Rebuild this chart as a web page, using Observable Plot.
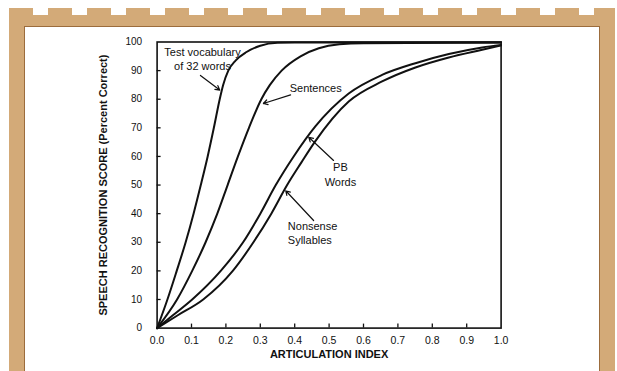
<!DOCTYPE html>
<html>
<head>
<meta charset="utf-8">
<script src="https://cdn.jsdelivr.net/npm/d3@7"></script>
<script src="https://cdn.jsdelivr.net/npm/@observablehq/plot@0.6"></script>
<style>
  html, body { margin: 0; padding: 0; background: #ffffff; }
  #wrap { position: relative; width: 617px; height: 371px; overflow: hidden; background: #ffffff; }
  #dash { position: absolute; left: 9px; top: 8px; width: 606px; height: 7px;
          background: repeating-linear-gradient(to right, #d3aa78 0px, #d3aa78 24px, transparent 24px, transparent 39px); }
  #tan { position: absolute; left: 9px; top: 15px; width: 606px; height: 356px; background: #d3aa78; }
  #inner { position: absolute; left: 24px; top: 26px; width: 576px; height: 345px; background: #ffffff;
           border-left: 1px solid #9c6c3c; border-top: 1px solid #9c6c3c; border-right: 1px solid #9c6c3c; box-sizing: border-box; }
  #chart { position: absolute; left: 25px; top: 27px; }
</style>
</head>
<body>
<div id="wrap">
  <div id="dash"></div>
  <div id="tan"></div>
  <div id="inner"></div>
  <div id="chart"></div>
</div>
<script>
// ---- data ----
const testX = [0, 0.030, 0.057, 0.083, 0.106, 0.127, 0.147, 0.165, 0.182, 0.192, 0.207, 0.228, 0.26, 0.30, 0.35, 0.4, 1.0];
const testY = [0, 10, 20, 30, 40, 50, 60, 70, 80, 85, 90, 93.5, 96.5, 98.7, 99.7, 99.8, 99.8];

const sentX = [0, 0.058, 0.102, 0.141, 0.175, 0.205, 0.235, 0.267, 0.303, 0.328, 0.362, 0.417, 0.47, 0.53, 0.6, 1.0];
const sentY = [0, 10, 20, 30, 40, 50, 60, 70, 80, 85, 90, 95, 97.8, 99.2, 99.6, 99.8];

const pbX = [0, 0.045, 0.102, 0.185, 0.25, 0.30, 0.345, 0.397, 0.46, 0.557, 0.654, 0.751, 0.848, 0.945, 1.0];
const pbY = [0, 4.4, 10, 20, 30, 40, 50, 60, 70.5, 82, 88.5, 92.6, 95.8, 98.1, 99];

const nsX = [0, 0.059, 0.134, 0.22, 0.28, 0.332, 0.378, 0.42, 0.458, 0.557, 0.654, 0.751, 0.848, 0.945, 1.0];
const nsY = [0, 4.4, 10, 20, 30, 40, 50, 58, 65, 79.2, 86.2, 91.1, 94.6, 97.3, 98.8];

const xTicks = [0, 0.1, 0.2, 0.3, 0.4, 0.5, 0.6, 0.7, 0.8, 0.9, 1.0];
const yTicks = [0, 10, 20, 30, 40, 50, 60, 70, 80, 90, 100];
const xInnerTicks = [0.1, 0.2, 0.3, 0.4, 0.5, 0.6, 0.7, 0.8, 0.9];
const yInnerTicks = [10, 20, 30, 40, 50, 60, 70, 80, 90];

const xTitle = "ARTICULATION INDEX";
const yTitle = "SPEECH RECOGNITION SCORE (Percent Correct)";

// annotations (data coordinates)
const noteText = ["Test vocabulary\nof 32 words", "Sentences", "PB\nWords", "Nonsense\nSyllables"];
const noteX = [0.132, 0.461, 0.533, 0.38];
const noteY = [94.2, 84.1, 53.9, 33.4];
const noteAnchor = ["middle", "middle", "middle", "start"];

const arrowX1 = [0.126, 0.388, 0.513, 0.455];
const arrowY1 = [88.3, 81.5, 58.6, 37.6];
const arrowX2 = [0.182, 0.309, 0.441, 0.374];
const arrowY2 = [83.2, 78.5, 66.7, 48.0];

// ---- build tables ----
const lines = [];
const addSeries = (name, xs, ys) => xs.forEach((x, i) => lines.push({series: name, x, y: ys[i]}));
addSeries("Test vocabulary of 32 words", testX, testY);
addSeries("Sentences", sentX, sentY);
addSeries("PB Words", pbX, pbY);
addSeries("Nonsense Syllables", nsX, nsY);

const notes = noteText.map((t, i) => ({t, x: noteX[i], y: noteY[i], a: noteAnchor[i]}));
const arrows = arrowX1.map((x1, i) => ({x1, y1: arrowY1[i], x2: arrowX2[i], y2: arrowY2[i]}));

const ink = "#111";
const chart = Plot.plot({
  width: 575,
  height: 344,
  marginLeft: 131.6,
  marginRight: 99.4,
  marginTop: 14.5,
  marginBottom: 43.4,
  style: {fontFamily: "'Liberation Sans', Arial, sans-serif", fontSize: "10px", background: "transparent", color: ink},
  x: {domain: [0, 1]},
  y: {domain: [0, 100]},
  marks: [
    Plot.axisX({ticks: xTicks, tickSize: 0, tickPadding: 8, tickFormat: d3.format(".1f"), label: null, fontSize: 10.5}),
    Plot.axisY({ticks: yTicks, tickSize: 0, tickPadding: 15, tickFormat: d3.format("d"), label: null, fontSize: 10}),
    Plot.axisX({ticks: xInnerTicks, tickSize: -4, tickFormat: () => "", label: null, strokeWidth: 1.3}),
    Plot.axisY({ticks: yInnerTicks, tickSize: -4, tickFormat: () => "", label: null, strokeWidth: 1.3}),
    Plot.line(lines, {x: "x", y: "y", z: "series", curve: "monotone-x", stroke: ink, strokeWidth: 2}),
    Plot.frame({stroke: ink, strokeWidth: 1.6}),
    Plot.arrow(arrows, {x1: "x1", y1: "y1", x2: "x2", y2: "y2", stroke: ink, strokeWidth: 1.2, headLength: 6}),
    Plot.text(notes.filter(d => d.a === "middle"), {x: "x", y: "y", text: "t", textAnchor: "middle", fontSize: 11, lineHeight: 1.3, fill: ink}),
    Plot.text(notes.filter(d => d.a === "start"), {x: "x", y: "y", text: "t", textAnchor: "start", fontSize: 11, lineHeight: 1.3, fill: ink}),
    Plot.text([xTitle], {frameAnchor: "bottom", dy: 26, lineAnchor: "middle", textAnchor: "middle", text: d => d, fontSize: 11, fontWeight: "bold", fill: ink}),
    Plot.text([yTitle], {frameAnchor: "left", dx: -54, rotate: -90, lineAnchor: "middle", textAnchor: "middle", text: d => d, fontSize: 11, fontWeight: "bold", fill: ink})
  ]
});
document.getElementById("chart").appendChild(chart);
</script>
</body>
</html>
